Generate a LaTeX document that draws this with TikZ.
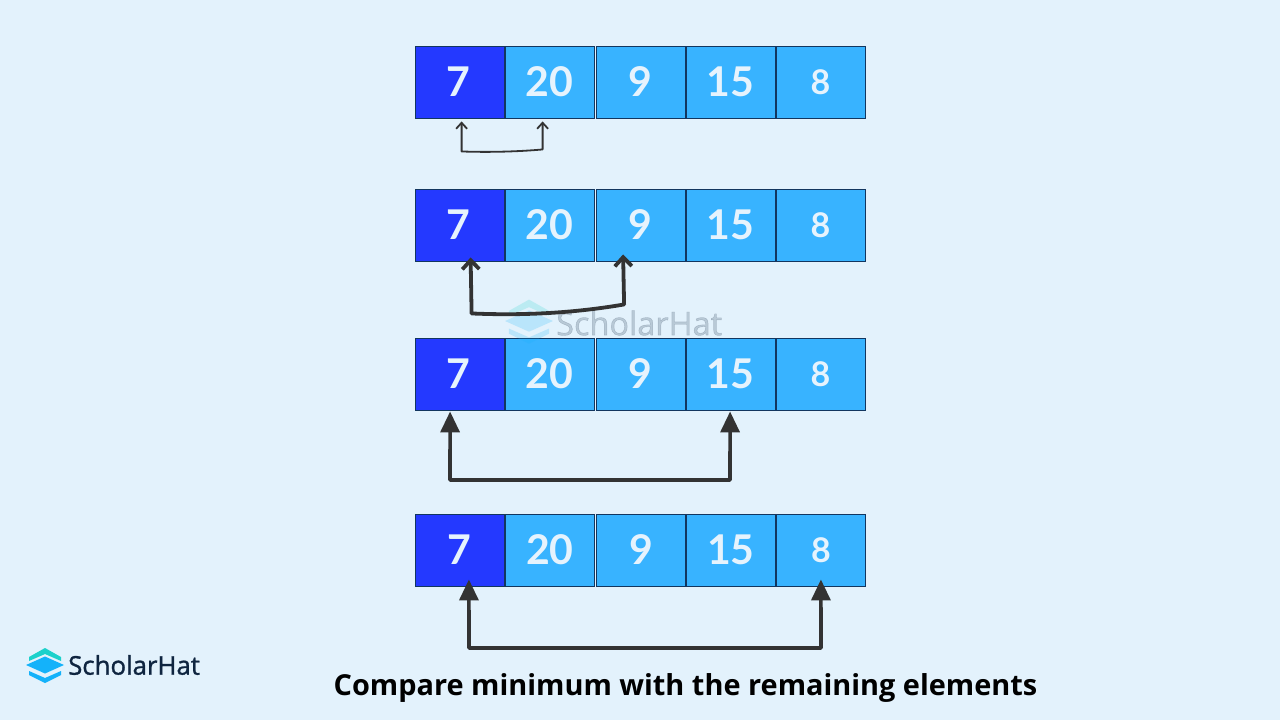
\documentclass[tikz,border=0pt]{standalone}
\usepackage{fontspec}
\setmainfont{Open Sans}
\newfontfamily\digitfont{Lato}
\newfontfamily\brandfont[FakeBold=1.2]{Open Sans}
\usetikzlibrary{arrows.meta}
\definecolor{pagebg}{HTML}{E3F2FC}
\definecolor{minblue}{HTML}{2439FF}
\definecolor{cellblue}{HTML}{38B3FF}
\definecolor{edgeblue}{HTML}{12365F}
\definecolor{numcol}{HTML}{E6F3FD}
\definecolor{linecol}{HTML}{333333}
\definecolor{navy}{HTML}{0F2540}
\definecolor{logoteal}{HTML}{1CD1CB}
\definecolor{logoblue}{HTML}{14B2FA}
\tikzset{
  x=1pt,y=-1pt,
  cellbox/.style={draw=edgeblue,line width=0.9pt,fill=cellblue,minimum width=89pt,minimum height=72pt,inner sep=0pt,text=numcol,font=\digitfont\bfseries\fontsize{41}{41}\selectfont},
  minbox/.style={cellbox,fill=minblue},
  smallnum/.style={font=\digitfont\bfseries\fontsize{34}{34}\selectfont},
  thinlink/.style={draw=linecol,line width=1.8pt,line join=round,{Straight Barb[length=6pt,width=11pt]}-{Straight Barb[length=6pt,width=11pt]}},
  midlink/.style={draw=linecol,line width=3.8pt,line join=round,{Straight Barb[length=9pt,width=17pt]}-{Straight Barb[length=9pt,width=17pt]}},
  boldlink/.style={draw=linecol,line width=3.6pt,line join=round,{Stealth[length=21pt,width=19pt,inset=0pt]}-{Stealth[length=21pt,width=19pt,inset=0pt]}},
  pics/scholarlogo/.style={code={
    \fill[logoteal] (-16,-8) -- (0,-17) -- (16,-8) -- (16,-4) -- (0,-11) -- (-16,-4) -- cycle;
    \fill[logoblue] (-19,0) -- (0,-8.5) -- (19,0) -- (0,8.5) -- cycle;
    \fill[logoblue] (-16,6) -- (0,13) -- (16,6) -- (16,10) -- (0,18) -- (-16,10) -- cycle;
  }},
}
\newcommand{\numrow}[3]{%
  \node[minbox]  (r#1a) at (459.5+#3,#2) {\raisebox{-3.5pt}{\hspace*{-2pt}7}};
  \node[cellbox] (r#1b) at (549.5+#3,#2) {\raisebox{-1pt}{20}};
  \node[cellbox] (r#1c) at (640.5+#3,#2) {\raisebox{-3.5pt}{9}};
  \node[cellbox] (r#1d) at (730.5+#3,#2) {\raisebox{-3.5pt}{15}};
  \node[cellbox,smallnum] (r#1e) at (820.5+#3,#2) {\raisebox{-5pt}{8}};
}
\begin{document}
\begin{tikzpicture}
\useasboundingbox[fill=pagebg] (0,0) rectangle (1280,720);
\numrow{1}{82}{0.1}
\numrow{2}{225}{0.1}
\numrow{3}{374}{0.1}
\numrow{4}{550}{0.4}
% watermark
\begin{scope}[opacity=0.2]
  \pic[scale=1.26] at (529,321) {scholarlogo};
  \node[anchor=west,inner sep=0pt,text=navy,font=\brandfont\fontsize{32.5}{32.5}\selectfont] (wm) at (556,323) {ScholarHat};
\end{scope}
% connector ends
\coordinate (t1a) at ([xshift=2pt,yshift=-3pt]r1a.south);
\coordinate (t1b) at ([xshift=-7pt,yshift=-3pt]r1b.south);
\coordinate (t2a) at ([xshift=11pt,yshift=4pt]r2a.south);
\coordinate (t2c) at ([xshift=-17.5pt,yshift=7pt]r2c.south);
\coordinate (t3a) at ([xshift=-9.5pt,yshift=-1pt]r3a.south);
\coordinate (t3d) at ([xshift=-0.5pt,yshift=-1pt]r3d.south);
\coordinate (t4a) at ([xshift=9pt,yshift=7pt]r4a.south);
\coordinate (t4e) at ([xshift=0pt,yshift=7pt]r4e.south);
\coordinate (b1a) at ([yshift=-30pt]t1a);
\coordinate (b1b) at ([yshift=-28pt]t1b);
\coordinate (b2a) at ([xshift=1pt,yshift=-56pt]t2a);
\coordinate (b2c) at ([xshift=1pt,yshift=-50pt]t2c);
\draw[thinlink] (t1a) -- (b1a) .. controls (490,152.5) and (520,151.5) .. (b1b) -- (t1b);
\draw[midlink] (t2a) -- (b2a) .. controls (530,316) and (580,312) .. (b2c) -- (t2c);
\draw[boldlink] (t3a) -- (450,480) -- (730,480) -- (t3d);
\draw[boldlink] (t4a) -- (469,648) -- (821,648) -- (t4e);
% logo
\pic at (45,665) {scholarlogo};
\node[anchor=west,inner sep=0pt,text=navy,font=\brandfont\fontsize{25.8}{25.8}\selectfont] (logotext) at (68,665) {ScholarHat};
% caption
\node[text=black,font=\bfseries\fontsize{28.9}{28.9}\selectfont,inner sep=0pt] (caption) at (685.5,688) {Compare minimum with the remaining elements};
\end{tikzpicture}
\end{document}
